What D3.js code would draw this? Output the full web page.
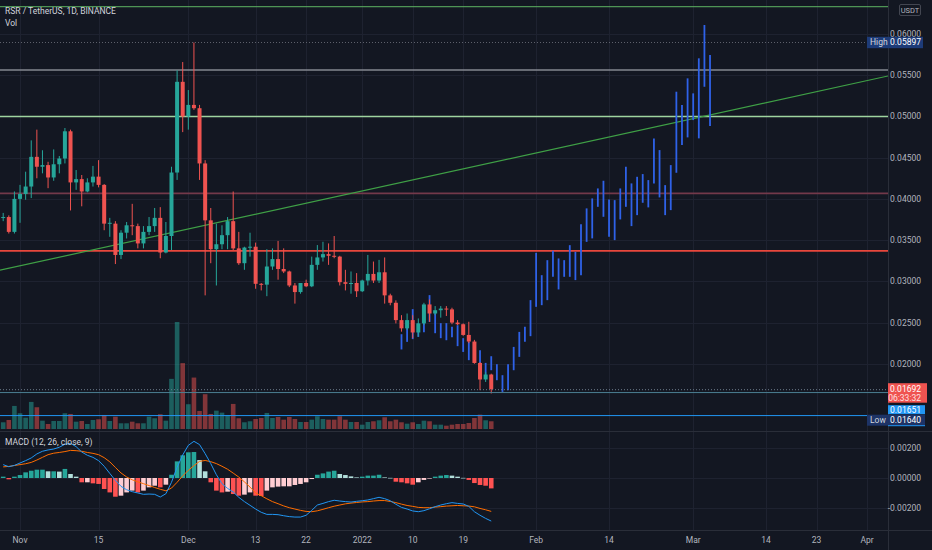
<!DOCTYPE html>
<html>
<head>
<meta charset="utf-8">
<script src="https://cdn.jsdelivr.net/npm/d3@7.9.0/dist/d3.min.js"></script>
<style>
  body { margin: 0; background: #131722; }
  svg { display: block; font-family: Roboto, "Noto Sans", sans-serif; }
</style>
</head>
<body>
<svg id="chart" width="932" height="550"></svg>
<script>
// daily candles, first one on 2021-10-29
const firstDay = new Date(Date.UTC(2021, 9, 29));
const open = [
  .0377,.0378,.0360,.0400,.0406,.0415,.0451,.0439,.0441,.0426,
  .0442,.0449,.0482,.0420,.0424,.0409,.0420,.0427,.0417,.0370,
  .0370,.0332,.0359,.0368,.0367,.0346,.0360,.0367,.0377,.0335,
  .0355,.0432,.0542,.0500,.0514,.0510,.0443,.0374,.0339,.0345,
  .0356,.0373,.0340,.0322,.0341,.0342,.0297,.0296,.0318,.0327,
  .0315,.0312,.0295,.0287,.0298,.0294,.0320,.0329,.0333,.0331,
  .0330,.0299,.0297,.0298,.0288,.0301,.0309,.0301,.0311,.0283,
  .0274,.0253,.0243,.0253,.0238,.0249,.0272,.0261,.0265,.0267,
  .0266,.0250,.0248,.0235,.0227,.0201,.0181,.0187];
const high = [
  .0383,.0380,.0409,.0417,.0433,.0471,.0484,.0459,.0445,.0460,
  .0452,.0486,.0484,.0435,.0429,.0425,.0440,.0447,.0418,.0377,
  .0373,.0362,.0372,.0394,.0370,.0367,.0378,.0389,.0390,.0372,
  .0439,.0556,.0566,.0532,.05897,.0514,.0447,.0389,.0370,.0368,
  .0378,.0409,.0360,.0342,.0359,.0347,.0298,.0339,.0340,.0349,
  .0340,.0313,.0298,.0298,.0302,.0330,.0344,.0348,.0346,.0355,
  .0331,.0314,.0312,.0310,.0302,.0332,.0324,.0326,.0329,.0285,
  .0277,.0259,.0261,.0259,.0255,.0274,.0278,.0270,.0270,.0270,
  .0268,.0253,.0249,.0251,.0229,.0202,.0190,.0188];
const low = [
  .0373,.0358,.0358,.0371,.0399,.0401,.0425,.0431,.0413,.0422,
  .0431,.0443,.0386,.0411,.0391,.0408,.0415,.0414,.0362,.0354,
  .0321,.0327,.0352,.0356,.0340,.0340,.0356,.0360,.0328,.0334,
  .0338,.0423,.0481,.0484,.0508,.0423,.0283,.0322,.0295,.0339,
  .0339,.0338,.0320,.0314,.0330,.0291,.0289,.0282,.0314,.0302,
  .0310,.0293,.0273,.0285,.0293,.0293,.0314,.0324,.0320,.0328,
  .0295,.0289,.0285,.0281,.0287,.0295,.0298,.0298,.0273,.0271,
  .0249,.0239,.0241,.0231,.0233,.0247,.0251,.0259,.0256,.0258,
  .0248,.0247,.0234,.0225,.0200,.0168,.0178,.0164];
const close = [
  .0378,.0360,.0400,.0406,.0415,.0451,.0439,.0441,.0426,.0442,
  .0449,.0482,.0420,.0424,.0409,.0420,.0427,.0417,.0370,.0371,
  .0332,.0359,.0368,.0367,.0346,.0360,.0367,.0377,.0335,.0355,
  .0432,.0542,.0500,.0514,.0510,.0443,.0374,.0339,.0345,.0356,
  .0373,.0340,.0322,.0341,.0342,.0297,.0296,.0318,.0327,.0315,
  .0312,.0295,.0287,.0298,.0294,.0320,.0329,.0333,.0331,.0330,
  .0299,.0297,.0298,.0288,.0301,.0309,.0301,.0311,.0283,.0274,
  .0253,.0243,.0253,.0238,.0249,.0272,.0261,.0265,.0267,.0266,
  .0250,.0248,.0235,.0227,.0201,.0181,.0187,.01692];
// volume, millions of RSR
const volume = [
  67,90,230,157,113,270,217,83,50,80,
  80,157,150,73,80,50,90,97,140,80,
  123,57,57,73,57,57,123,107,147,83,
  500,1067,657,247,513,180,347,150,183,163,
  140,250,107,67,77,100,110,160,110,120,
  93,120,100,70,70,93,127,100,93,93,
  127,93,70,70,43,70,77,87,117,77,
  93,67,53,67,50,83,77,43,43,33,
  43,50,50,60,110,143,87,77];

// MACD (12, 26, close, 9), in units of 1e-5
const macdLine = [
  90,76,85,101,117,135,162,180,189,195,
  207,227,233,211,175,153,139,117,79,31,
  -16,-56,-79,-92,-101,-110,-108,-110,-128,-106,
  -29,72,155,220,247,225,164,97,22,-38,
  -70,-94,-130,-159,-184,-209,-231,-245,-245,-247,
  -254,-260,-263,-263,-251,-218,-182,-171,-159,-150,
  -155,-159,-162,-157,-153,-148,-139,-130,-139,-153,
  -177,-198,-209,-222,-227,-220,-207,-193,-182,-173,
  -166,-171,-175,-191,-227,-251,-272,-290].map(v => v * 1e-5);
const signalLine = [
  75,78,84,90,96,105,121,139,157,167,
  172,178,186,184,180,172,166,157,137,109,
  71,34,7,-12,-26,-38,-51,-64,-76,-86,
  -68,-29,14,52,83,112,118,110,97,79,
  59,33,6,-26,-61,-101,-119,-140,-159,-173,
  -188,-200,-209,-218,-225,-227,-221,-211,-200,-190,
  -182,-174,-169,-165,-161,-159,-155,-152,-152,-158,
  -166,-176,-185,-191,-198,-200,-200,-196,-193,-189,
  -187,-185,-187,-189,-194,-205,-214,-225].map(v => v * 1e-5);
const histogram = [
  9,-9,9,20,38,49,56,56,45,45,
  43,61,27,9,-29,-29,-36,-40,-74,-97,
  -126,-119,-97,-85,-97,-85,-63,-52,-63,-45,
  22,112,153,173,175,121,45,-29,-85,-97,
  -92,-108,-119,-112,-97,-119,-121,-85,-63,-58,
  -56,-56,-47,-40,-29,-7,22,31,43,49,
  27,20,11,4,9,16,16,22,4,1,
  -25,-29,-36,-45,-29,-13,-4,9,16,20,
  16,9,1,-13,-34,-47,-52,-70].map(v => v * 1e-5);

// projected bars pattern (high/low), first bar on 2022-01-08
const projFirstDay = new Date(Date.UTC(2022, 0, 8));
const projHigh = [
  .02359,.02448,.02663,.02493,.02553,.02833,.02614,.02493,.02493,.02448,
  .02468,.02311,.02266,.02226,.02165,.02011,.02092,.01995,.01862,.01995,
  .02205,.02387,.02448,.02772,.03346,.03075,.03257,.03370,.03278,.03257,
  .03439,.03358,.03694,.03885,.04006,.04127,.04220,.03994,.03985,.04127,
  .04390,.04188,.04268,.04301,.04228,.04734,.04592,.04167,.04410,.05300,
  .05138,.05462,.05280,.05705,.06109,.05745];
const projLow = [
  .02174,.02266,.02299,.02326,.02384,.02508,.02371,.02311,.02286,.02323,
  .02214,.02144,.02044,.02019,.01922,.01825,.01922,.01801,.01659,.01680,
  .01922,.02084,.02266,.02335,.02691,.02711,.02772,.03055,.02902,.03055,
  .03055,.03015,.03075,.03479,.03521,.03904,.03783,.03540,.03500,.03751,
  .03904,.03670,.03803,.03953,.03897,.04188,.04018,.03803,.03864,.04317,
  .04653,.04746,.04956,.04734,.05360,.04883];

// drawn levels and trend line
const levelPrices = [0.06331, 0.05563, 0.0500, 0.04067, 0.0337];
const trendDates = ["2021-10-29", "2022-03-28"];
const trendPrices = [0.03144, 0.05376];
const lineLevelPrice = 0.01651;
const blueLinePrice = 0.01372;
const periodHigh = 0.05897;
const periodLow = 0.01640;

const priceTicks = [0.02, 0.025, 0.03, 0.035, 0.04, 0.045, 0.05, 0.055, 0.06];
const macdTicks = [0.002, 0, -0.002];
const tickDates = ["2021-11-01","2021-11-15","2021-12-01","2021-12-13","2021-12-22","2022-01-01",
  "2022-01-10","2022-01-19","2022-02-01","2022-02-14","2022-03-01","2022-03-14","2022-03-23","2022-04-01"];
const tickLabels = ["Nov","15","Dec","13","22","2022","10","19","Feb","14","Mar","14","23","Apr"];

// ---- layout
const paneRight = 888;
const mainBottom = 431;
const macdTop = 432;
const macdBottom = 530;
const UP = "#26a69a", DOWN = "#ef5350";

const dates = d3.utcDay.range(firstDay, d3.utcDay.offset(firstDay, open.length));
const projDates = d3.utcDay.range(projFirstDay, d3.utcDay.offset(projFirstDay, projHigh.length));

const x = d3.scaleUtc()
  .domain([firstDay, new Date(Date.UTC(2022, 3, 1))])
  .range([3.2, 867.1]);
const y = d3.scaleLinear().domain([0.02, 0.06]).range([363.8, 34]);
const yVol = d3.scaleLinear().domain([0, d3.max(volume)]).range([429, 322]);
const yMacd = d3.scaleLinear().domain([-0.002, 0.002]).range([507.7, 448.3]);

const svg = d3.select("#chart");
svg.append("rect").attr("width", 932).attr("height", 550).attr("fill", "#131722");

const defs = svg.append("defs");
defs.append("clipPath").attr("id", "clipMain")
  .append("rect").attr("x", 0).attr("y", 0).attr("width", paneRight).attr("height", mainBottom);
defs.append("clipPath").attr("id", "clipMacd")
  .append("rect").attr("x", 0).attr("y", macdTop).attr("width", paneRight).attr("height", macdBottom - macdTop);

// ---- grid
const grid = svg.append("g").attr("stroke", "#1e2230").attr("stroke-width", 1);
tickDates.forEach((d) => {
  const gx = Math.round(x(new Date(d))) + 0.5;
  grid.append("line").attr("x1", gx).attr("x2", gx).attr("y1", 0).attr("y2", macdBottom);
});
priceTicks.forEach((p) => {
  const gy = Math.round(y(p)) + 0.5;
  grid.append("line").attr("x1", 0).attr("x2", paneRight).attr("y1", gy).attr("y2", gy);
});
macdTicks.forEach((v) => {
  const gy = Math.round(yMacd(v)) + 0.5;
  grid.append("line").attr("x1", 0).attr("x2", paneRight).attr("y1", gy).attr("y2", gy);
});

// ---- main pane
const main = svg.append("g").attr("clip-path", "url(#clipMain)");

// volume
main.append("g").selectAll("rect")
  .data(volume)
  .join("rect")
  .attr("x", (d, i) => x(dates[i]) - 2.3)
  .attr("width", 4.6)
  .attr("y", (d) => yVol(d))
  .attr("height", (d) => yVol(0) - yVol(d))
  .attr("fill", (d, i) => (close[i] >= open[i] ? UP : DOWN))
  .attr("fill-opacity", 0.5);

// horizontal levels
const levelColors = ["#5fb563", "#858891", "#9ed49f", "#73394a", "#e8473c"];
const levelWidths = [1, 1.4, 1.4, 1.6, 1.6];
levelPrices.forEach((p, i) => {
  main.append("line")
    .attr("x1", 0).attr("x2", paneRight)
    .attr("y1", y(p)).attr("y2", y(p))
    .attr("stroke", levelColors[i])
    .attr("stroke-width", levelWidths[i]);
});

// high marker (dotted)
main.append("line")
  .attr("x1", 0).attr("x2", paneRight)
  .attr("y1", Math.round(y(periodHigh)) + 0.5).attr("y2", Math.round(y(periodHigh)) + 0.5)
  .attr("stroke", "#5d606b").attr("stroke-dasharray", "1,2");

// trend line, extended over the pane
const t0 = x(new Date(trendDates[0])), t1 = x(new Date(trendDates[1]));
const p0 = y(trendPrices[0]), p1 = y(trendPrices[1]);
const slope = (p1 - p0) / (t1 - t0);
main.append("line")
  .attr("x1", 0).attr("y1", p0 + (0 - t0) * slope)
  .attr("x2", paneRight).attr("y2", p0 + (paneRight - t0) * slope)
  .attr("stroke", "#3fa046").attr("stroke-width", 1.2);

// projection bars
main.append("g").selectAll("line")
  .data(projHigh)
  .join("line")
  .attr("x1", (d, i) => x(projDates[i]))
  .attr("x2", (d, i) => x(projDates[i]))
  .attr("y1", (d) => y(d))
  .attr("y2", (d, i) => y(projLow[i]))
  .attr("stroke", "#2f62e8")
  .attr("stroke-width", 1.8);

// candles
const candles = main.append("g").selectAll("g")
  .data(open)
  .join("g")
  .attr("fill", (d, i) => (close[i] >= open[i] ? UP : DOWN))
  .attr("stroke", (d, i) => (close[i] >= open[i] ? UP : DOWN));
candles.append("line")
  .attr("x1", (d, i) => x(dates[i]))
  .attr("x2", (d, i) => x(dates[i]))
  .attr("y1", (d, i) => y(high[i]))
  .attr("y2", (d, i) => y(low[i]))
  .attr("stroke-width", 1);
candles.append("rect")
  .attr("x", (d, i) => x(dates[i]) - 2)
  .attr("width", 4)
  .attr("y", (d, i) => y(Math.max(open[i], close[i])))
  .attr("height", (d, i) => Math.max(1, Math.abs(y(open[i]) - y(close[i]))))
  .attr("stroke", "none");

// price lines near the last close
const lastClose = close[close.length - 1];
main.append("line")
  .attr("x1", 0).attr("x2", paneRight)
  .attr("y1", y(lineLevelPrice)).attr("y2", y(lineLevelPrice))
  .attr("stroke", "#4b7f93").attr("stroke-width", 1);
main.append("line")
  .attr("x1", 0).attr("x2", paneRight)
  .attr("y1", y(lastClose) + 0.5).attr("y2", y(lastClose) + 0.5)
  .attr("stroke", "#6d7c8c").attr("stroke-dasharray", "1,2");
main.append("line")
  .attr("x1", 0).attr("x2", paneRight)
  .attr("y1", y(blueLinePrice)).attr("y2", y(blueLinePrice))
  .attr("stroke", "#2196f3").attr("stroke-width", 1);

// ---- MACD pane
const macdG = svg.append("g").attr("clip-path", "url(#clipMacd)");
macdG.append("g").selectAll("rect")
  .data(histogram)
  .join("rect")
  .attr("x", (d, i) => x(dates[i]) - 2.3)
  .attr("width", 4.6)
  .attr("y", (d) => Math.min(yMacd(d), yMacd(0)))
  .attr("height", (d) => Math.max(0.6, Math.abs(yMacd(d) - yMacd(0))))
  .attr("fill", (d, i) => {
    const prev = i > 0 ? histogram[i - 1] : d;
    if (d >= 0) return d >= prev ? "#26a69a" : "#b2dfdb";
    return d < prev ? "#ff5252" : "#ffcdd2";
  });

const macdPath = d3.line().x((d, i) => x(dates[i])).y((d) => yMacd(d));
macdG.append("path").attr("d", macdPath(signalLine))
  .attr("fill", "none").attr("stroke", "#ff6d00").attr("stroke-width", 1);
macdG.append("path").attr("d", macdPath(macdLine))
  .attr("fill", "none").attr("stroke", "#2196f3").attr("stroke-width", 1);

// ---- separators
const sep = svg.append("g").attr("stroke", "#2a2e39").attr("stroke-width", 1);
sep.append("line").attr("x1", 0).attr("x2", 932).attr("y1", mainBottom + 0.5).attr("y2", mainBottom + 0.5);
sep.append("line").attr("x1", 0).attr("x2", 932).attr("y1", macdBottom + 0.5).attr("y2", macdBottom + 0.5);
sep.append("line").attr("x1", paneRight + 0.5).attr("x2", paneRight + 0.5).attr("y1", 0).attr("y2", 550);

// ---- texts
const txt = svg.append("g").attr("font-size", 8.5).attr("fill", "#b2b5be");

txt.append("text").attr("x", 5).attr("y", 14).attr("fill", "#d1d4dc").text("RSR / TetherUS, 1D, BINANCE");
txt.append("text").attr("x", 5).attr("y", 26).attr("fill", "#d1d4dc").text("Vol");
txt.append("text").attr("x", 5).attr("y", 444.5).attr("fill", "#d1d4dc").text("MACD (12, 26, close, 9)");

// price axis
const fmt = (v) => v.toFixed(5);
txt.append("g").selectAll("text")
  .data(priceTicks)
  .join("text")
  .attr("x", 921).attr("y", (d) => y(d))
  .attr("dy", "0.35em").attr("text-anchor", "end")
  .text(fmt);
txt.append("g").selectAll("text")
  .data(macdTicks)
  .join("text")
  .attr("x", 921).attr("y", (d) => yMacd(d))
  .attr("dy", "0.35em").attr("text-anchor", "end")
  .text(fmt);

// time axis
txt.append("g").selectAll("text")
  .data(tickDates)
  .join("text")
  .attr("x", (d) => x(new Date(d)))
  .attr("y", 543).attr("text-anchor", "middle")
  .text((d, i) => tickLabels[i]);

// currency box
svg.append("rect").attr("x", 899.5).attr("y", 4.5).attr("width", 21).attr("height", 11)
  .attr("fill", "#131722").attr("stroke", "#434651").attr("rx", 1.5);
svg.append("text").attr("x", 910).attr("y", 12.8).attr("text-anchor", "middle")
  .attr("font-size", 7.5).attr("fill", "#b2b5be").text("USDT");

// high label
const hy = y(periodHigh);
svg.append("rect").attr("x", 867).attr("y", hy - 5.7).attr("width", 56).attr("height", 11.4).attr("fill", "#1d3b78");
svg.append("text").attr("x", 870).attr("y", hy).attr("dy", "0.35em").attr("font-size", 8.5)
  .attr("fill", "#d1d4dc").text("High");
svg.append("text").attr("x", 921).attr("y", hy).attr("dy", "0.35em").attr("text-anchor", "end")
  .attr("font-size", 8.5).attr("fill", "#ffffff").text(fmt(periodHigh));

// last price label
const ly = y(lastClose);
svg.append("rect").attr("x", 888).attr("y", ly - 6).attr("width", 39).attr("height", 19.5).attr("fill", DOWN);
svg.append("text").attr("x", 921).attr("y", ly).attr("dy", "0.35em").attr("text-anchor", "end")
  .attr("font-size", 8.5).attr("fill", "#ffffff").text(fmt(lastClose));
svg.append("text").attr("x", 921).attr("y", ly + 9).attr("dy", "0.35em").attr("text-anchor", "end")
  .attr("font-size", 8.5).attr("fill", "#ffe0e0").text("06:33:32");

// horizontal line label (pushed below the last price label)
const by = ly + 20.5;
svg.append("rect").attr("x", 888).attr("y", by - 4.5).attr("width", 37).attr("height", 9).attr("fill", "#2196f3");
svg.append("text").attr("x", 921).attr("y", by).attr("dy", "0.35em").attr("text-anchor", "end")
  .attr("font-size", 8.5).attr("fill", "#ffffff").text(fmt(lineLevelPrice));

// low label
const lowY = by + 10.5;
svg.append("rect").attr("x", 867).attr("y", lowY - 5.5).attr("width", 58).attr("height", 11).attr("fill", "#1d3366");
svg.append("line").attr("x1", 888).attr("x2", 925).attr("y1", lowY + 5.5).attr("y2", lowY + 5.5)
  .attr("stroke", "#2196f3").attr("stroke-width", 1);
svg.append("text").attr("x", 870).attr("y", lowY).attr("dy", "0.35em").attr("font-size", 8.5)
  .attr("fill", "#d1d4dc").text("Low");
svg.append("text").attr("x", 921).attr("y", lowY).attr("dy", "0.35em").attr("text-anchor", "end")
  .attr("font-size", 8.5).attr("fill", "#ffffff").text(fmt(periodLow));
</script>
</body>
</html>
